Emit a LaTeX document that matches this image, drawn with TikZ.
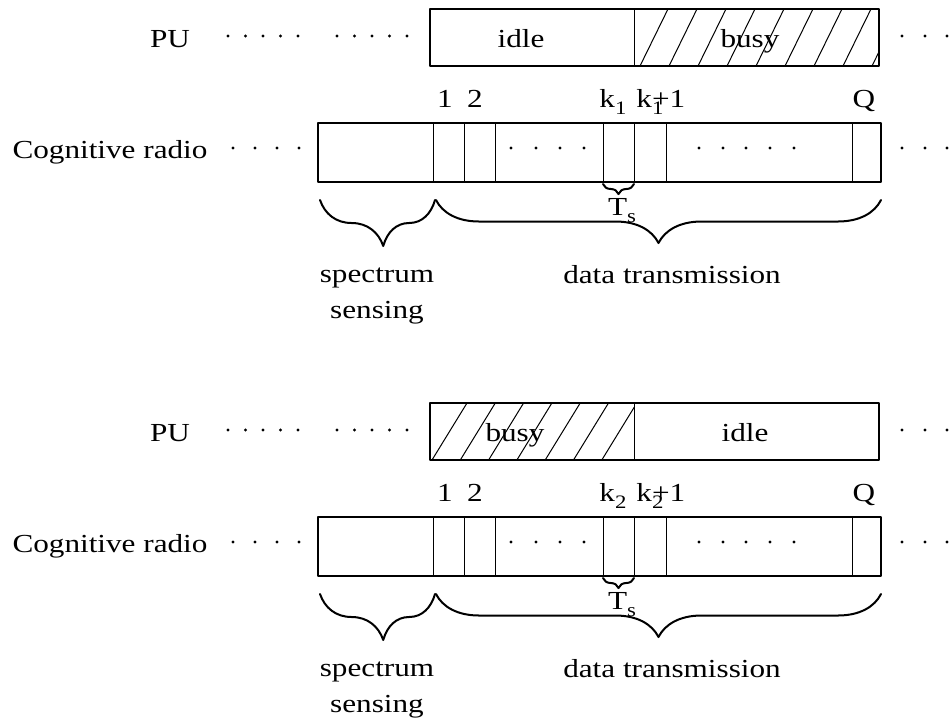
\documentclass[tikz,border=0pt]{standalone}
\usepackage{fontspec}
\setmainfont{Liberation Serif}[FakeStretch=1.2]
\usetikzlibrary{decorations.pathreplacing}
\newcommand{\lowidx}[1]{\raisebox{-3.5pt}{\fontsize{9.5pt}{10pt}\selectfont #1}}

\begin{document}
\begin{tikzpicture}[x=0.5pt,y=-0.5pt,line join=round,line cap=round,
    every node/.style={font=\fontsize{13pt}{15pt}\selectfont,inner sep=0pt,anchor=base},
    frame/.style={line width=1.35pt},
    slot/.style={line width=0.5pt},
    hatch/.style={line width=0.5pt},
    brc/.style={decorate,line width=1pt,decoration={brace,mirror,amplitude=#1}}]
  \useasboundingbox (0,0) rectangle (949,725);

  % primary user, first case: idle then busy
  \node (pu1) at (170,47) {PU};
  \foreach \x in {228,245.5,263,280.5,298,337,354.5,372,389.5,407}
    \fill (\x,36) circle (0.8pt);
  \begin{scope}
    \clip (634,9) rectangle (879,66);
    \foreach \i in {0,...,8}
      \draw[hatch] (640+29*\i,66) -- (668+29*\i,9);
  \end{scope}
  \draw[frame] (430,9) rectangle (879,66);
  \draw[slot] (634,9) -- (634,66);
  \node (idle1) at (521,47) {idle};
  \node (busy1) at (750,47) {busy};
  \foreach \x in {902,925,947}
    \fill (\x,36) circle (0.8pt);

  % primary user, second case: busy then idle
  \node (pu2) at (170,441) {PU};
  \foreach \x in {228,245.5,263,280.5,298,337,354.5,372,389.5,407}
    \fill (\x,430) circle (0.8pt);
  \begin{scope}
    \clip (430,403) rectangle (634,460);
    \foreach \i in {0,...,6}
      \draw[hatch] (432+28.3*\i,460) -- (467+28.3*\i,403);
  \end{scope}
  \draw[frame] (430,403) rectangle (879,460);
  \draw[slot] (634,403) -- (634,460);
  \node (busy2) at (515,441) {busy};
  \node (idle2) at (745,441) {idle};
  \foreach \x in {902,925,947}
    \fill (\x,430) circle (0.8pt);

  % cognitive radio frames
  \foreach \yo/\k in {0/1,394/2}{
    \begin{scope}[shift={(0,\yo)}]
      \node (cr\k) at (110,158) {Cognitive radio};
      \foreach \x in {233,255,277,299}
        \fill (\x,148) circle (0.8pt);
      \draw[frame] (318,123) rectangle (881,182);
      \foreach \x in {433,464,495,603,634,666,852}
        \draw[slot] (\x,123) -- (\x,182);
      \foreach \x in {511,536,560,584,699,723,746,770,794}
        \fill (\x,148) circle (0.8pt);
      \foreach \x in {902,925,947}
        \fill (\x,148) circle (0.8pt);
      \node (one\k) at (445,107) {1};
      \node (two\k) at (475,107) {2};
      \node[anchor=base west] (kk\k) at (599,107) {k\lowidx{\k}};
      \node[anchor=base west] (kn\k) at (636,107) {k\rlap{\lowidx{\k}}+1};
      \node (qq\k) at (864,107) {Q};

      \coordinate (ts\k a) at (603,184);
      \coordinate (ts\k b) at (634,184);
      \draw[brc=5pt] (ts\k a) -- (ts\k b);
      \node (ts\k) at (622,215) {T\lowidx{s}};

      \coordinate (ss\k a) at (320,200);
      \coordinate (ss\k b) at (435,200);
      \draw[brc=23pt,decoration={aspect=0.55}] (ss\k a) -- (ss\k b);
      \node (spec\k) at (377,282) {spectrum};
      \node (sens\k) at (377,318) {sensing};

      \coordinate (dt\k a) at (436,200);
      \coordinate (dt\k b) at (881,200);
      \draw[brc=21.5pt] (dt\k a) -- (dt\k b);
      \node (data\k) at (672,283) {data transmission};
    \end{scope}
  }
\end{tikzpicture}
\end{document}
